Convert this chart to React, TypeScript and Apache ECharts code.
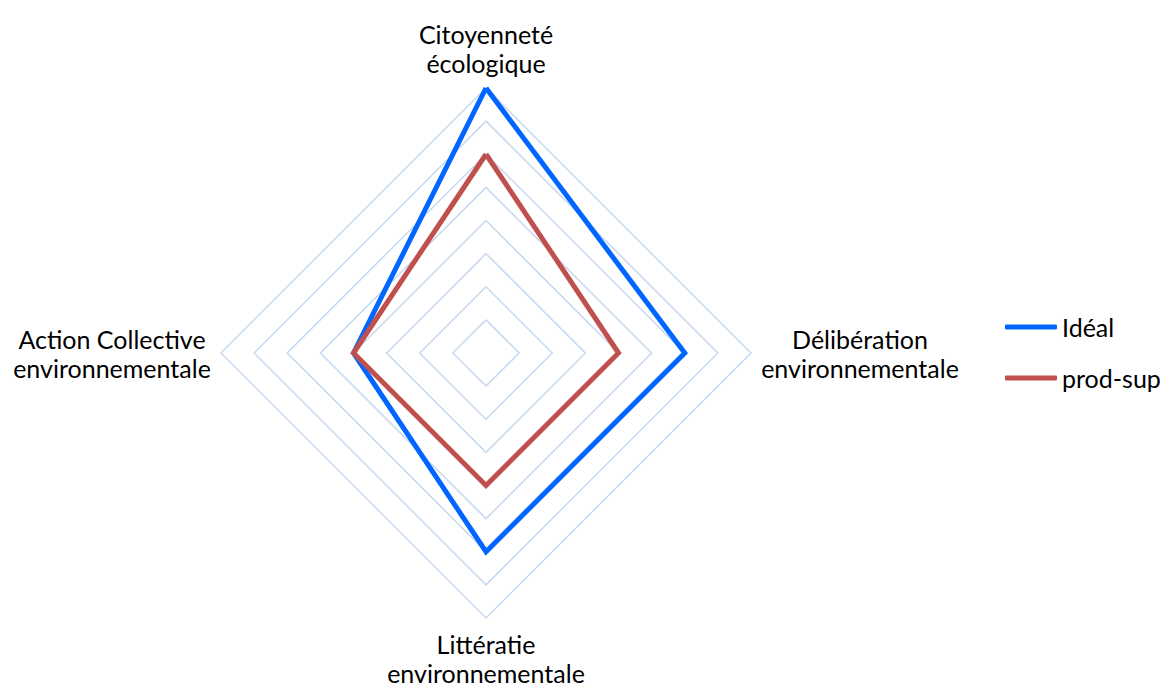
import React, { useEffect, useRef } from "react";
import * as echarts from "echarts";

const indicators = [
  "Citoyenneté\nécologique",
  "Action Collective\nenvironnementale",
  "Littératie\nenvironnementale",
  "Délibération\nenvironnementale",
];
const idealValues = [4, 2, 3, 3];
const prodSupValues = [3, 2, 2, 2];
const seriesNames = ["Idéal", "prod-sup"];
const colors = ["#0066FF", "#C0504D"];

const FONT = "Lato, 'Noto Sans', sans-serif";

export default function App() {
  const ref = useRef<HTMLDivElement>(null);
  useEffect(() => {
    document.body.style.margin = "0";
    if (!ref.current) return;
    const chart = echarts.init(ref.current, undefined, { renderer: "svg" });
    chart.setOption({
      animation: false,
      backgroundColor: "#ffffff",
      textStyle: { fontFamily: FONT },
      legend: {
        orient: "vertical",
        left: 1005,
        top: 312,
        padding: 0,
        itemWidth: 52,
        itemHeight: 5,
        itemGap: 21,
        icon: "roundRect",
        textStyle: { fontFamily: FONT, fontSize: 25, color: "#000", lineHeight: 30 },
        data: seriesNames,
      },
      radar: {
        center: [486, 353],
        radius: 265,
        startAngle: 90,
        shape: "polygon",
        splitNumber: 8,
        nameGap: 11,
        indicator: indicators.map((n) => ({ name: n, min: 0, max: 4 })),
        axisName: {
          color: "#000",
          fontFamily: FONT,
          fontSize: 25,
          formatter: (v: string) =>
            v
              .split("\n")
              .map((l) => `{a|${l}}`)
              .join("\n"),
          rich: {
            a: {
              width: 196,
              align: "center",
              fontFamily: FONT,
              fontSize: 25,
              lineHeight: 29,
              color: "#000",
            },
          },
        },
        axisLine: { show: false },
        axisTick: { show: false },
        axisLabel: { show: false },
        splitArea: { show: false },
        splitLine: { lineStyle: { color: "#C6D9F1", width: 1.5 } },
      },
      series: [
        {
          type: "radar",
          symbol: "none",
          data: [
            {
              name: seriesNames[0],
              value: idealValues,
              lineStyle: { color: colors[0], width: 5, join: "miter" },
              itemStyle: { color: colors[0] },
            },
            {
              name: seriesNames[1],
              value: prodSupValues,
              lineStyle: { color: colors[1], width: 5, join: "miter" },
              itemStyle: { color: colors[1] },
            },
          ],
        },
      ],
    });
    return () => chart.dispose();
  }, []);
  return (
    <div
      ref={ref}
      style={{ position: "absolute", left: 0, top: 0, width: 1161, height: 688 }}
    />
  );
}
